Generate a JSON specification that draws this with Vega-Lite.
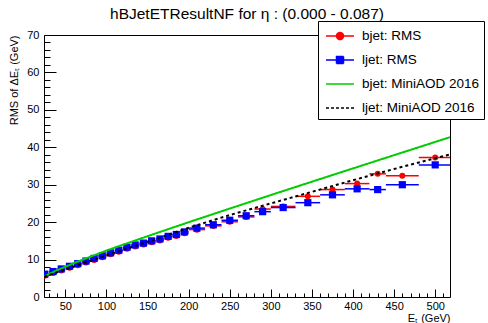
{
  "$schema": "https://vega.github.io/schema/vega-lite/v6.json",
  "autosize": {"type": "none"},
  "width": 406,
  "height": 262,
  "padding": {"left": 44, "top": 35, "right": 38, "bottom": 26},
  "background": "white",
  "config": {
    "view": {"stroke": "black", "strokeWidth": 1},
    "font": "Liberation Sans",
    "axis": {"domain": false, "grid": false, "labelFont": "Liberation Sans", "titleFont": "Liberation Sans", "labelColor": "black", "titleColor": "black", "tickColor": "black", "titleFontWeight": "normal", "labelFontSize": 11, "titleFontSize": 11}
  },
  "title": {"text": "hBJetETResultNF for η : (0.000 - 0.087)", "fontSize": 15.5, "font": "Liberation Sans", "fontWeight": "normal", "anchor": "middle", "offset": 3, "dy": 17, "baseline": "alphabetic", "color": "black"},
  "datasets": {
    "pts": [
      {"series": "bjet: RMS", "lo": 20, "hi": 30, "E": 25, "v": 5.7},
      {"series": "bjet: RMS", "lo": 30, "hi": 40, "E": 35, "v": 6.4},
      {"series": "bjet: RMS", "lo": 40, "hi": 50, "E": 45, "v": 7.1},
      {"series": "bjet: RMS", "lo": 50, "hi": 60, "E": 55, "v": 7.8},
      {"series": "bjet: RMS", "lo": 60, "hi": 70, "E": 65, "v": 8.5},
      {"series": "bjet: RMS", "lo": 70, "hi": 80, "E": 75, "v": 9.2},
      {"series": "bjet: RMS", "lo": 80, "hi": 90, "E": 85, "v": 9.9},
      {"series": "bjet: RMS", "lo": 90, "hi": 100, "E": 95, "v": 10.6},
      {"series": "bjet: RMS", "lo": 100, "hi": 110, "E": 105, "v": 11.4},
      {"series": "bjet: RMS", "lo": 110, "hi": 120, "E": 115, "v": 12.1},
      {"series": "bjet: RMS", "lo": 120, "hi": 130, "E": 125, "v": 12.9},
      {"series": "bjet: RMS", "lo": 130, "hi": 140, "E": 135, "v": 13.5},
      {"series": "bjet: RMS", "lo": 140, "hi": 150, "E": 145, "v": 14.0},
      {"series": "bjet: RMS", "lo": 150, "hi": 160, "E": 155, "v": 14.6},
      {"series": "bjet: RMS", "lo": 160, "hi": 170, "E": 165, "v": 15.1},
      {"series": "bjet: RMS", "lo": 170, "hi": 180, "E": 175, "v": 15.8},
      {"series": "bjet: RMS", "lo": 180, "hi": 190, "E": 185, "v": 16.3},
      {"series": "bjet: RMS", "lo": 190, "hi": 200, "E": 195, "v": 17.0},
      {"series": "bjet: RMS", "lo": 200, "hi": 220, "E": 210, "v": 18.0},
      {"series": "bjet: RMS", "lo": 220, "hi": 240, "E": 230, "v": 19.0},
      {"series": "bjet: RMS", "lo": 240, "hi": 260, "E": 250, "v": 20.1},
      {"series": "bjet: RMS", "lo": 260, "hi": 280, "E": 270, "v": 21.4},
      {"series": "bjet: RMS", "lo": 280, "hi": 300, "E": 290, "v": 23.5},
      {"series": "bjet: RMS", "lo": 300, "hi": 330, "E": 315, "v": 24.2},
      {"series": "bjet: RMS", "lo": 330, "hi": 360, "E": 345, "v": 26.9},
      {"series": "bjet: RMS", "lo": 360, "hi": 390, "E": 375, "v": 28.7},
      {"series": "bjet: RMS", "lo": 390, "hi": 420, "E": 405, "v": 30.3},
      {"series": "bjet: RMS", "lo": 420, "hi": 440, "E": 430, "v": 32.9},
      {"series": "bjet: RMS", "lo": 440, "hi": 480, "E": 460, "v": 32.4},
      {"series": "bjet: RMS", "lo": 480, "hi": 520, "E": 500, "v": 37.3},
      {"series": "ljet: RMS", "lo": 20, "hi": 30, "E": 25, "v": 6.1},
      {"series": "ljet: RMS", "lo": 30, "hi": 40, "E": 35, "v": 6.8},
      {"series": "ljet: RMS", "lo": 40, "hi": 50, "E": 45, "v": 7.5},
      {"series": "ljet: RMS", "lo": 50, "hi": 60, "E": 55, "v": 8.2},
      {"series": "ljet: RMS", "lo": 60, "hi": 70, "E": 65, "v": 8.9},
      {"series": "ljet: RMS", "lo": 70, "hi": 80, "E": 75, "v": 9.6},
      {"series": "ljet: RMS", "lo": 80, "hi": 90, "E": 85, "v": 10.3},
      {"series": "ljet: RMS", "lo": 90, "hi": 100, "E": 95, "v": 11.0},
      {"series": "ljet: RMS", "lo": 100, "hi": 110, "E": 105, "v": 11.8},
      {"series": "ljet: RMS", "lo": 110, "hi": 120, "E": 115, "v": 12.5},
      {"series": "ljet: RMS", "lo": 120, "hi": 130, "E": 125, "v": 13.3},
      {"series": "ljet: RMS", "lo": 130, "hi": 140, "E": 135, "v": 13.9},
      {"series": "ljet: RMS", "lo": 140, "hi": 150, "E": 145, "v": 14.4},
      {"series": "ljet: RMS", "lo": 150, "hi": 160, "E": 155, "v": 15.0},
      {"series": "ljet: RMS", "lo": 160, "hi": 170, "E": 165, "v": 15.5},
      {"series": "ljet: RMS", "lo": 170, "hi": 180, "E": 175, "v": 16.2},
      {"series": "ljet: RMS", "lo": 180, "hi": 190, "E": 185, "v": 16.7},
      {"series": "ljet: RMS", "lo": 190, "hi": 200, "E": 195, "v": 17.4},
      {"series": "ljet: RMS", "lo": 200, "hi": 220, "E": 210, "v": 18.4},
      {"series": "ljet: RMS", "lo": 220, "hi": 240, "E": 230, "v": 19.3},
      {"series": "ljet: RMS", "lo": 240, "hi": 260, "E": 250, "v": 20.5},
      {"series": "ljet: RMS", "lo": 260, "hi": 280, "E": 270, "v": 21.7},
      {"series": "ljet: RMS", "lo": 280, "hi": 300, "E": 290, "v": 22.8},
      {"series": "ljet: RMS", "lo": 300, "hi": 330, "E": 315, "v": 23.9},
      {"series": "ljet: RMS", "lo": 330, "hi": 360, "E": 345, "v": 25.2},
      {"series": "ljet: RMS", "lo": 360, "hi": 390, "E": 375, "v": 27.3},
      {"series": "ljet: RMS", "lo": 390, "hi": 420, "E": 405, "v": 28.9},
      {"series": "ljet: RMS", "lo": 420, "hi": 440, "E": 430, "v": 28.7},
      {"series": "ljet: RMS", "lo": 440, "hi": 480, "E": 460, "v": 30.0},
      {"series": "ljet: RMS", "lo": 480, "hi": 520, "E": 500, "v": 35.3}
    ],
    "curves": [
      {"series": "bjet: MiniAOD 2016", "E": 24, "v": 5.5},
      {"series": "bjet: MiniAOD 2016", "E": 40, "v": 7.17},
      {"series": "bjet: MiniAOD 2016", "E": 60, "v": 9.02},
      {"series": "bjet: MiniAOD 2016", "E": 80, "v": 10.73},
      {"series": "bjet: MiniAOD 2016", "E": 100, "v": 12.4},
      {"series": "bjet: MiniAOD 2016", "E": 130, "v": 14.72},
      {"series": "bjet: MiniAOD 2016", "E": 160, "v": 17.0},
      {"series": "bjet: MiniAOD 2016", "E": 200, "v": 19.98},
      {"series": "bjet: MiniAOD 2016", "E": 250, "v": 23.63},
      {"series": "bjet: MiniAOD 2016", "E": 300, "v": 27.24},
      {"series": "bjet: MiniAOD 2016", "E": 350, "v": 30.81},
      {"series": "bjet: MiniAOD 2016", "E": 400, "v": 34.36},
      {"series": "bjet: MiniAOD 2016", "E": 450, "v": 37.9},
      {"series": "bjet: MiniAOD 2016", "E": 518, "v": 42.7},
      {"series": "ljet: MiniAOD 2016", "E": 24, "v": 5.4},
      {"series": "ljet: MiniAOD 2016", "E": 40, "v": 6.6},
      {"series": "ljet: MiniAOD 2016", "E": 60, "v": 8.1},
      {"series": "ljet: MiniAOD 2016", "E": 80, "v": 9.6},
      {"series": "ljet: MiniAOD 2016", "E": 100, "v": 11.1},
      {"series": "ljet: MiniAOD 2016", "E": 130, "v": 13.3},
      {"series": "ljet: MiniAOD 2016", "E": 160, "v": 15.5},
      {"series": "ljet: MiniAOD 2016", "E": 200, "v": 18.5},
      {"series": "ljet: MiniAOD 2016", "E": 250, "v": 21.9},
      {"series": "ljet: MiniAOD 2016", "E": 300, "v": 25.0},
      {"series": "ljet: MiniAOD 2016", "E": 350, "v": 28.1},
      {"series": "ljet: MiniAOD 2016", "E": 400, "v": 31.2},
      {"series": "ljet: MiniAOD 2016", "E": 450, "v": 34.2},
      {"series": "ljet: MiniAOD 2016", "E": 518, "v": 38.1}
    ]
  },
  "layer": [
    {
      "data": {"name": "pts"},
      "mark": {"type": "rule", "strokeWidth": 1.5, "clip": true},
      "encoding": {
        "x": {"field": "lo", "type": "quantitative", "scale": {"domain": [24, 518], "nice": false, "zero": false},
              "axis": {"orient": "bottom", "values": [50, 100, 150, 200, 250, 300, 350, 400, 450, 500], "tickSize": -8, "labelPadding": 11, "title": "Eₜ (GeV)", "titleAnchor": "end", "titlePadding": 1}},
        "x2": {"field": "hi"},
        "y": {"field": "v", "type": "quantitative", "scale": {"domain": [0, 70], "nice": false},
              "axis": {"values": [0, 10, 20, 30, 40, 50, 60, 70], "tickSize": -12, "labelPadding": 17, "title": "RMS of ΔEₜ (GeV)", "titleAnchor": "end", "titlePadding": 7}},
        "color": {"field": "series", "type": "nominal",
                  "scale": {"domain": ["bjet: RMS", "ljet: RMS", "bjet: MiniAOD 2016", "ljet: MiniAOD 2016"], "range": ["#ff0000", "#0000ff", "#00cc00", "#000000"]},
                  "legend": {
                    "orient": "none", "legendX": 274, "legendY": -14, "title": null, "padding": 4,
                    "strokeColor": "black", "fillColor": "white",
                    "symbolSize": 400, "symbolStrokeWidth": 1.5, "symbolOffset": 7,
                    "labelFontSize": 13.5, "labelFont": "Liberation Sans", "labelColor": "black", "labelOffset": 11, "rowPadding": 6, "labelLimit": 400,
                    "labelExpr": "datum.label + '    '",
                    "encode": {"symbols": {"update": {
                      "shape": {"signal": "datum.value === 'bjet: RMS' ? 'M-1.4,0H1.4M-0.35,0A0.35,0.35 0 1,0 0.35,0A0.35,0.35 0 1,0 -0.35,0Z' : (datum.value === 'ljet: RMS' ? 'M-1.4,0H1.4M-0.35,-0.35H0.35V0.35H-0.35Z' : 'M-1.4,0H1.4')"},
                      "strokeDash": {"signal": "datum.value === 'ljet: MiniAOD 2016' ? [3, 2] : [1, 0]"},
                      "fill": {"signal": "scale('color', datum.value)"},
                      "stroke": {"signal": "scale('color', datum.value)"},
                      "fillOpacity": {"value": 1},
                      "opacity": {"value": 1}
                    }}}
                  }}
      }
    },
    {
      "data": {"name": "pts"},
      "mark": {"type": "point", "filled": true, "opacity": 1, "clip": true},
      "encoding": {
        "x": {"field": "E", "type": "quantitative",
              "axis": {"orient": "bottom", "values": [30, 40, 60, 70, 80, 90, 110, 120, 130, 140, 160, 170, 180, 190, 210, 220, 230, 240, 260, 270, 280, 290, 310, 320, 330, 340, 360, 370, 380, 390, 410, 420, 430, 440, 460, 470, 480, 490, 510], "tickSize": -4, "labels": false, "title": null}},
        "y": {"field": "v", "type": "quantitative",
              "axis": {"orient": "left", "values": [2, 4, 6, 8, 12, 14, 16, 18, 22, 24, 26, 28, 32, 34, 36, 38, 42, 44, 46, 48, 52, 54, 56, 58, 62, 64, 66, 68], "tickSize": -6, "labels": false, "title": null}},
        "color": {"field": "series", "type": "nominal"},
        "shape": {"field": "series", "type": "nominal", "scale": {"domain": ["bjet: RMS", "ljet: RMS"], "range": ["circle", "square"]}, "legend": null},
        "size": {"field": "series", "type": "nominal", "scale": {"domain": ["bjet: RMS", "ljet: RMS"], "range": [36, 52]}, "legend": null}
      }
    },
    {
      "data": {"name": "curves"},
      "mark": {"type": "line", "strokeWidth": 2, "clip": true},
      "encoding": {
        "x": {"field": "E", "type": "quantitative", "axis": null},
        "y": {"field": "v", "type": "quantitative", "axis": null},
        "color": {"field": "series", "type": "nominal"},
        "strokeDash": {"field": "series", "type": "nominal", "scale": {"domain": ["bjet: MiniAOD 2016", "ljet: MiniAOD 2016"], "range": [[1, 0], [3, 3]]}, "legend": null}
      }
    }
  ],
  "resolve": {"axis": {"x": "independent", "y": "independent"}}
}
